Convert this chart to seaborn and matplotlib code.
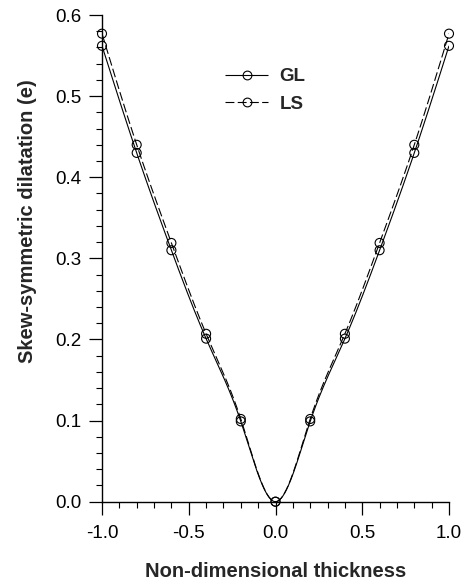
import numpy as np
import pandas as pd
import matplotlib
matplotlib.use("Agg")
import matplotlib.pyplot as plt
import seaborn as sns
from matplotlib.lines import Line2D
from matplotlib.ticker import MultipleLocator, FormatStrFormatter

# ---- data ----
thickness = [-1.0, -0.8, -0.6, -0.4, -0.2, 0.0, 0.2, 0.4, 0.6, 0.8, 1.0]
gl_values = [0.562, 0.430, 0.310, 0.201, 0.099, 0.0, 0.099, 0.201, 0.310, 0.430, 0.562]
ls_values = [0.577, 0.440, 0.319, 0.207, 0.102, 0.0, 0.102, 0.207, 0.319, 0.440, 0.577]
series_names = ["GL", "LS"]
x_ticks = [-1.0, -0.5, 0.0, 0.5, 1.0]
y_ticks = [0.0, 0.1, 0.2, 0.3, 0.4, 0.5, 0.6]


def natural_spline(x, y, n=400):
    x = np.asarray(x, float); y = np.asarray(y, float)
    m = len(x); h = np.diff(x)
    A = np.zeros((m, m)); r = np.zeros(m)
    A[0, 0] = A[-1, -1] = 1
    for i in range(1, m - 1):
        A[i, i - 1] = h[i - 1]; A[i, i] = 2 * (h[i - 1] + h[i]); A[i, i + 1] = h[i]
        r[i] = 6 * ((y[i + 1] - y[i]) / h[i] - (y[i] - y[i - 1]) / h[i - 1])
    M = np.linalg.solve(A, r)
    xs = np.linspace(x[0], x[-1], n)
    idx = np.clip(np.searchsorted(x, xs) - 1, 0, m - 2)
    x0, x1 = x[idx], x[idx + 1]; hh = x1 - x0
    ys = (M[idx] * (x1 - xs) ** 3 / (6 * hh) + M[idx + 1] * (xs - x0) ** 3 / (6 * hh)
          + (y[idx] / hh - M[idx] * hh / 6) * (x1 - xs)
          + (y[idx + 1] / hh - M[idx + 1] * hh / 6) * (xs - x0))
    return xs, ys


sns.set_style("ticks")
plt.rcParams['font.family'] = ['Liberation Sans', 'DejaVu Sans']

W, H = 469, 583
fig = plt.figure(figsize=(W / 100, H / 100), dpi=100)
x0p, x1p, y0p, y1p = 102, 449, 501.7, 15
ax = fig.add_axes([x0p / W, 1 - y0p / H, (x1p - x0p) / W, (y0p - y1p) / H])

styles = {"GL": (0, ()), "LS": (0, (8, 3))}
handles = []
for name, vals in zip(series_names, [gl_values, ls_values]):
    xs, ys = natural_spline(thickness, vals)
    sns.lineplot(x=xs, y=ys, ax=ax, color="black", linewidth=0.8,
                 linestyle=styles[name], sort=False)
    sns.scatterplot(x=thickness, y=vals, ax=ax, marker="o", s=42,
                    facecolor="none", edgecolor="black", linewidth=0.8, zorder=3,
                    clip_on=False)
    handles.append(Line2D([0], [0], color="black", linewidth=0.8, linestyle=styles[name],
                          marker="o", markersize=6.3, markerfacecolor="none",
                          markeredgecolor="black", markeredgewidth=0.8))

fig.legend(handles, series_names, loc="center left",
           bbox_to_anchor=(225 / W, 1 - 90.5 / H),
           frameon=False, handlelength=2.3, handletextpad=0.6, labelspacing=0.55,
           borderpad=0, borderaxespad=0,
           prop={"weight": "bold", "size": 13.5})

ax.set_xlim(-1.0, 1.0)
ax.set_ylim(0.0, 0.6)
ax.set_xticks(x_ticks)
ax.set_yticks(y_ticks)
ax.xaxis.set_minor_locator(MultipleLocator(0.1))
ax.yaxis.set_minor_locator(MultipleLocator(0.02))
ax.xaxis.set_major_formatter(FormatStrFormatter("%.1f"))
ax.yaxis.set_major_formatter(FormatStrFormatter("%.1f"))
ax.tick_params(which="major", direction="out", length=9.5, width=0.9, labelsize=13.5,
               colors="black")
ax.tick_params(axis="y", which="major", pad=5)
ax.tick_params(axis="x", which="major", pad=7)
ax.tick_params(which="minor", direction="out", length=4.5, width=0.8, colors="black")
for s in ["top", "right"]:
    ax.spines[s].set_visible(False)
for s in ["left", "bottom"]:
    ax.spines[s].set_linewidth(1.0)
    ax.spines[s].set_color("black")

ax.set_xlabel("Non-dimensional thickness", fontsize=14.5, fontweight="bold")
ax.set_ylabel("Skew-symmetric dilatation (e)", fontsize=14.5, fontweight="bold")
ax.xaxis.set_label_coords(0.5, (y0p - 562) / (y0p - y1p))
ax.yaxis.set_label_coords((37 - x0p) / (x1p - x0p), (y0p - 221.5) / (y0p - y1p))

fig.savefig("out.png", dpi=100)
